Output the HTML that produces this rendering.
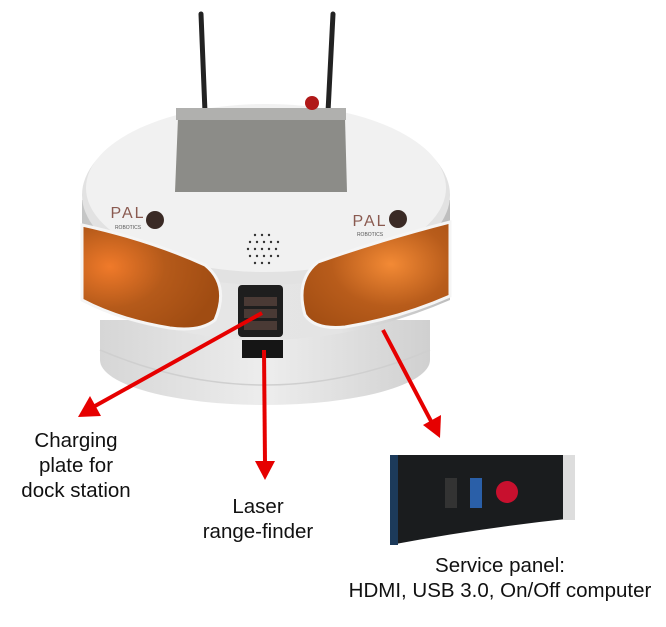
<!DOCTYPE html>
<html><head><style>
html,body{margin:0;padding:0;background:#fff;}
svg{display:block}
text{font-family:"Liberation Sans",sans-serif;font-size:20.5px;fill:#111;text-anchor:middle}
</style></head><body>
<svg width="666" height="627" viewBox="0 0 666 627" xmlns="http://www.w3.org/2000/svg">
<defs>
<linearGradient id="body" x1="0" x2="1"><stop offset="0" stop-color="#c4c5c5"/><stop offset=".3" stop-color="#e6e6e6"/><stop offset=".7" stop-color="#e4e4e4"/><stop offset="1" stop-color="#bdbdbd"/></linearGradient>
<linearGradient id="base" x1="0" x2="1"><stop offset="0" stop-color="#d6d6d6"/><stop offset=".5" stop-color="#ededed"/><stop offset="1" stop-color="#d0d0d0"/></linearGradient>
<radialGradient id="org" cx=".2" cy=".4" r=".8"><stop offset="0" stop-color="#f07a2a"/><stop offset=".5" stop-color="#b55a1a"/><stop offset="1" stop-color="#a04c12"/></radialGradient>
<radialGradient id="org2" cx=".6" cy=".4" r=".8"><stop offset="0" stop-color="#f38a35"/><stop offset=".5" stop-color="#b85c1b"/><stop offset="1" stop-color="#a04c12"/></radialGradient>
</defs>
<line x1="201" y1="14" x2="205" y2="112" stroke="#222" stroke-width="5" stroke-linecap="round"/>
<line x1="333" y1="14" x2="328" y2="112" stroke="#222" stroke-width="5" stroke-linecap="round"/>
<path d="M100 320 L100 360 Q265 445 430 360 L430 320 Z" fill="url(#base)"/>
<ellipse cx="265" cy="360" rx="165" ry="45" fill="url(#base)"/>
<path d="M100 350 Q265 420 430 350" fill="none" stroke="#cfcfcf" stroke-width="1.5"/>
<path d="M82 200 L82 300 Q265 380 450 300 L450 200 Z" fill="url(#body)"/>
<ellipse cx="266" cy="195" rx="184" ry="90" fill="#e2e2e2"/>
<ellipse cx="266" cy="188" rx="180" ry="84" fill="#f1f1f1"/>
<polygon points="178,118 345,118 347,192 175,192" fill="#8c8c88"/>
<rect x="176" y="108" width="170" height="12" fill="#b0b0ae"/>
<circle cx="312" cy="103" r="7" fill="#b01818"/>
<path d="M82 225 Q150 240 205 265 Q230 285 215 320 Q200 332 170 328 Q120 320 82 300 Z" fill="url(#org)" stroke="#f5f5f5" stroke-width="3"/>
<path d="M450 222 Q380 240 318 262 Q295 280 305 315 Q315 330 345 327 Q400 318 450 296 Z" fill="url(#org2)" stroke="#f5f5f5" stroke-width="3"/>
<text x="128" y="218" style="font-size:16px;fill:#8a5a50;letter-spacing:2px">PAL</text>
<text x="128" y="229" style="font-size:5px;fill:#555">ROBOTICS</text>
<circle cx="155" cy="220" r="9" fill="#3a2a25"/>
<text x="370" y="226" style="font-size:16px;fill:#8a5a50;letter-spacing:2px">PAL</text>
<text x="370" y="236" style="font-size:5px;fill:#555">ROBOTICS</text>
<circle cx="398" cy="219" r="9" fill="#3a2a25"/>
<g fill="#333">
<circle cx="255" cy="235" r="1.2"/><circle cx="262" cy="235" r="1.2"/><circle cx="269" cy="235" r="1.2"/>
<circle cx="250" cy="242" r="1.2"/><circle cx="257" cy="242" r="1.2"/><circle cx="264" cy="242" r="1.2"/><circle cx="271" cy="242" r="1.2"/><circle cx="278" cy="242" r="1.2"/>
<circle cx="248" cy="249" r="1.2"/><circle cx="255" cy="249" r="1.2"/><circle cx="262" cy="249" r="1.2"/><circle cx="269" cy="249" r="1.2"/><circle cx="276" cy="249" r="1.2"/>
<circle cx="250" cy="256" r="1.2"/><circle cx="257" cy="256" r="1.2"/><circle cx="264" cy="256" r="1.2"/><circle cx="271" cy="256" r="1.2"/><circle cx="278" cy="256" r="1.2"/>
<circle cx="255" cy="263" r="1.2"/><circle cx="262" cy="263" r="1.2"/><circle cx="269" cy="263" r="1.2"/></g>
<rect x="238" y="285" width="45" height="52" rx="4" fill="#1e1e1e"/>
<rect x="244" y="297" width="33" height="9" fill="#4a3a35"/>
<rect x="244" y="309" width="33" height="9" fill="#4a3a35"/>
<rect x="244" y="321" width="33" height="9" fill="#4a3a35"/>
<rect x="242" y="340" width="41" height="18" fill="#151515"/>
<path d="M390 455 L575 455 L575 518 Q480 528 390 545 Z" fill="#1a1c1e"/>
<rect x="390" y="455" width="8" height="90" fill="#1c3a5a"/>
<rect x="445" y="478" width="12" height="30" fill="#333"/>
<rect x="470" y="478" width="12" height="30" fill="#2a5fa8"/>
<circle cx="507" cy="492" r="11" fill="#c8102e"/>
<rect x="563" y="455" width="12" height="65" fill="#ddd"/>
<g stroke="#e60000" stroke-width="4" fill="#e60000">
<line x1="262" y1="313" x2="95" y2="406"/>
<line x1="264" y1="350" x2="265" y2="463"/>
<line x1="383" y1="330" x2="432" y2="423"/>
</g>
<g fill="#e60000">
<polygon points="78,417 90,396 101,416"/>
<polygon points="265,480 255,461 275,461"/>
<polygon points="440,438 423,425 441,415"/>
</g>
<text x="76" y="447">Charging</text>
<text x="76" y="472">plate for</text>
<text x="76" y="497">dock station</text>
<text x="258" y="513">Laser</text>
<text x="258" y="538">range-finder</text>
<text x="500" y="572">Service panel:</text>
<text x="500" y="597">HDMI, USB 3.0, On/Off computer</text>
</svg>
</body></html>
